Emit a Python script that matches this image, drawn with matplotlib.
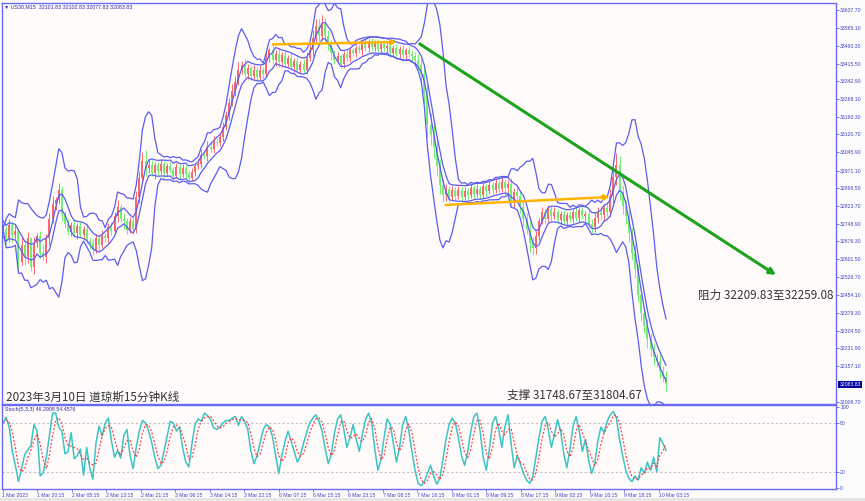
import numpy as np
import pandas as pd
import matplotlib
matplotlib.use('Agg')
import matplotlib.pyplot as plt
from matplotlib.patches import Rectangle

plt.rcParams['font.family'] = ['Noto Sans CJK SC', 'DejaVu Sans']

# ---- data (each bar ~45 min of the US30 M15 chart) ----
closes = [
    32730, 32690, 32745, 32705, 32720, 32590, 32660, 32610, 32690, 32570,
    32670, 32700, 32630, 32610, 32690, 32770, 32830, 32850, 32890, 32790,
    32750, 32715, 32745, 32710, 32740, 32705, 32730, 32680, 32670, 32640,
    32690, 32660, 32700, 32690, 32735, 32720, 32780, 32820, 32770, 32760,
    32725, 32760, 32730, 32860, 32940, 33010, 32980, 32995, 32960, 32995,
    32970, 33000, 32960, 32990, 32975, 32950, 32985, 32955, 32980, 32955,
    32940, 32965, 32990, 33000, 33035, 33030, 33070, 33060, 33090, 33085,
    33110, 33150, 33200, 33250, 33300, 33340, 33390, 33410, 33370, 33395,
    33365, 33390, 33360, 33390, 33370, 33440, 33470, 33430, 33455, 33420,
    33450, 33415, 33440, 33400, 33425, 33390, 33415, 33390, 33440, 33470,
    33520, 33570, 33530, 33580, 33530, 33495, 33460, 33430, 33445, 33415,
    33455, 33440, 33470, 33460, 33480, 33470, 33500, 33480, 33505, 33485,
    33500, 33475, 33495, 33480, 33490, 33460, 33480, 33455, 33475, 33450,
    33470, 33455, 33445, 33430, 33410, 33370, 33290, 33160, 33120, 33070,
    32990, 32910, 32870, 32895, 32860, 32890, 32865, 32890, 32860, 32885,
    32870, 32900, 32875, 32895, 32870, 32905, 32885, 32910, 32890, 32920,
    32895, 32925, 32900, 32915, 32840, 32880, 32865, 32820, 32770, 32730,
    32670, 32650, 32700, 32760, 32800, 32770, 32810, 32780, 32800, 32765,
    32790, 32760, 32785, 32770, 32800, 32775, 32805, 32780, 32790, 32750,
    32735, 32775, 32800, 32785, 32815, 32800, 32865, 32945, 32995, 32880,
    32825, 32780, 32710, 32630, 32560, 32455, 32380, 32325, 32270, 32230,
    32195, 32180, 32140, 32115, 32083.83,
]
first_open = 32720
# wick sizes, one digit per bar, in steps of 6 points
upper_wick = ("3243526341" "4235346253" "2324232423" "3242343524" "2324568432"
              "2322323232" "2323434343" "3434545343" "2323232534" "2323232345"
              "6556443232" "2322232323" "2323232323" "2323456787" "6543232323"
              "2323232323" "2323435454" "5432323232" "2323232323" "3434345786"
              "5454545454" "43434")
lower_wick = ("2435362543" "5342453435" "3232423243" "2423432425" "3243435324"
              "3232232323" "3232323232" "2323232323" "3232323243" "3232323232"
              "4343545323" "3232323232" "3232323232" "3234567878" "7654323232"
              "3232323232" "3254343454" "6543232323" "3232323232" "4343434565"
              "6565656565" "54545")

# stochastic %K, one value per bar
stoch_k = [
    80, 87, 75, 45, 28, 8, 24, 41, 47, 52,
    78, 70, 15, 19, 38, 65, 92, 92, 75, 70,
    42, 45, 68, 36, 40, 48, 16, 50, 25, 11,
    55, 76, 64, 80, 86, 58, 38, 46, 37, 65,
    72, 40, 24, 50, 70, 83, 80, 70, 56, 38,
    24, 28, 46, 64, 82, 80, 70, 75, 49, 32,
    26, 55, 78, 85, 82, 92, 89, 84, 74, 72,
    75, 80, 83, 83, 86, 88, 77, 88, 82, 72,
    46, 30, 40, 56, 72, 78, 75, 63, 40, 18,
    40, 57, 70, 58, 45, 32, 40, 55, 68, 80,
    86, 90, 82, 70, 48, 30, 42, 68, 85, 90,
    72, 50, 62, 78, 60, 45, 66, 84, 92, 80,
    48, 22, 35, 62, 85, 78, 55, 32, 50, 78,
    88, 70, 45, 22, 6, 3, 8, 18, 28, 15,
    5, 12, 35, 60, 78, 86, 80, 62, 40, 28,
    45, 70, 88, 92, 70, 38, 22, 48, 80, 88,
    72, 50, 75, 90, 55, 25, 40, 30, 18, 10,
    6, 14, 38, 62, 82, 88, 72, 50, 66, 84,
    70, 42, 25, 48, 76, 88, 70, 45, 60, 35,
    18, 30, 58, 75, 68, 82, 90, 94, 86, 60,
    40, 22, 12, 8, 15, 10, 25, 18, 32, 22,
    38, 20, 62, 55, 46.29,
]

price_ticks = [33637.70, 33565.10, 33490.30, 33415.50, 33342.90, 33268.10,
               33193.30, 33120.70, 33045.90, 32971.10, 32896.50, 32823.70,
               32748.90, 32676.30, 32601.50, 32526.70, 32454.10, 32379.30,
               32304.50, 32231.90, 32157.10, 32009.70]
time_labels = ['1 Mar 2023', '1 Mar 20:15', '2 Mar 05:15', '2 Mar 13:15',
               '2 Mar 21:15', '3 Mar 06:15', '3 Mar 14:15', '3 Mar 22:15',
               '6 Mar 07:15', '6 Mar 15:15', '6 Mar 23:15', '7 Mar 08:15',
               '7 Mar 16:15', '8 Mar 01:15', '8 Mar 09:15', '8 Mar 17:15',
               '9 Mar 02:15', '9 Mar 10:15', '9 Mar 18:15', '10 Mar 03:15']
header = '\u25bc US30,M15  32101.83 32102.83 32077.83 32083.83'
stoch_title = 'Stoch(5,3,3) 46.2908 54.4576'
resist_txt = '阻力 32209.83至32259.08'
support_txt = '支撑 31748.67至31804.67'
title_txt = '2023年3月10日 道琼斯15分钟K线'

# hand drawn lines: (bar index, price)
green_line = [(134.5, 33497), (249.5, 32537)]
orange_1 = [(87.1, 33495), (127.1, 33505)]
orange_2 = [(142.9, 32828), (195.8, 32861)]

# ---- derived ----
c = np.array(closes, dtype=float)
n = len(c)
o = np.concatenate([[first_open], c[:-1]])
uw = np.array([int(d) for d in upper_wick]) * 6
lw_ = np.array([int(d) for d in lower_wick]) * 6
hi = np.maximum(o, c) + uw
lo = np.minimum(o, c) - lw_

W, H = 865, 501
step = 663 / (n - 1)
xs = 3 + np.arange(n) * step
def bx(i):
    return 3 + i * step

s = pd.Series(c)
mid = s.rolling(7, min_periods=1).mean()
sd = s.rolling(7, min_periods=1).std(ddof=0).fillna(0)
bb_up = mid + 3.0 * sd
bb_dn = mid - 3.0 * sd
ma4 = s.rolling(4, min_periods=1).mean()
env_up = ma4 * 1.001
env_dn = ma4 * 0.999

k = pd.Series(stoch_k, dtype=float)
sig = k.rolling(3, min_periods=1).mean()

# ---- figure ----
bg = '#fffbfb'
blue = '#6b6bf0'
lab = '#4040c0'
fig = plt.figure(figsize=(W / 100, H / 100), dpi=100, facecolor='#fcfcfc')
fig.patches.append(Rectangle((0, 0), 1, 3 / H, transform=fig.transFigure,
                             fc='#e6e6e6', ec='none', zorder=-5))
ax = fig.add_axes([2 / W, 1 - 404 / H, 834 / W, 401 / H], facecolor=bg)
ax2 = fig.add_axes([2 / W, 1 - 489 / H, 834 / W, 84 / H], facecolor=bg)

up = c >= o
cols = np.where(up, '#f86a6a', '#72ee72')
ax.vlines(xs, lo, hi, colors=cols, lw=0.7)
ax.bar(xs, np.maximum(np.abs(c - o), 3), bottom=np.minimum(o, c), width=2.0,
       color=cols, linewidth=0)

for band in (bb_up, bb_dn, env_up, env_dn):
    ax.plot(xs, band, color='#5c5cf0', lw=0.9)

def arrow(a, pts, color, lw, ms):
    (x0, y0), (x1, y1) = pts
    a.annotate('', xy=(bx(x1), y1), xytext=(bx(x0), y0),
               arrowprops=dict(arrowstyle='-|>', color=color, lw=lw,
                               mutation_scale=ms, shrinkA=0, shrinkB=0))

arrow(ax, green_line, '#1ca31c', 2.2, 9)
arrow(ax, orange_1, '#ffb400', 1.8, 7)
arrow(ax, orange_2, '#ffb400', 1.8, 7)

ax.set_xlim(2, 836)
ax.set_ylim(32001, 33667)
ax.set_xticks([])
ax.yaxis.tick_right()
ax.set_yticks(price_ticks)
ax.set_yticklabels([f'{p:.2f}' for p in price_ticks])
ax.tick_params(axis='y', labelsize=3.7, labelcolor=lab, color=blue,
               length=2, pad=1, width=0.6)
for a in (ax, ax2):
    for sp in a.spines.values():
        sp.set_color(blue)
        sp.set_linewidth(1.0)

ax.text(4, 33660, header, fontsize=3.8, color='#2a2aa0', va='top',
        family=['Liberation Sans', 'DejaVu Sans'])
ax.text(698, 32452, resist_txt, fontsize=8.4, color='#333333', va='center')
ax.text(507, 32037, support_txt, fontsize=8.4, color='#333333', va='center')
ax.text(6, 32029, title_txt, fontsize=8.4, color='#333333', va='center')

ax.annotate(f'{closes[-1]:.2f}', xy=(1, closes[-1]),
            xycoords=('axes fraction', 'data'), xytext=(2.5, 0),
            textcoords='offset points', va='center', ha='left', fontsize=3.7,
            color='white', family='Liberation Sans',
            bbox=dict(boxstyle='square,pad=0.2', fc='#0000a0', ec='none'))

# stochastic panel
ax2.axhline(80, color='#c0c0c0', lw=0.8, ls=(0, (2, 2)))
ax2.axhline(20, color='#c0c0c0', lw=0.8, ls=(0, (2, 2)))
ax2.plot(xs, k, color='#3cc4c4', lw=1.1)
ax2.plot(xs, sig, color='#ff3c3c', lw=0.9, ls=(0, (1.5, 1.5)))
ax2.set_xlim(2, 836)
ax2.set_ylim(-1, 102)
ax2.yaxis.tick_right()
ax2.set_yticks([0, 20, 80, 100])
ax2.set_yticklabels(['0', '20', '80', '100'])
tick_px = 2.5 + np.arange(len(time_labels)) * 34.55
ax2.set_xticks(tick_px)
ax2.set_xticklabels(time_labels, ha='left')
ax2.tick_params(labelsize=3.7, labelcolor=lab, color=blue, length=2,
                pad=1, width=0.6)
for a in (ax, ax2):
    for t in a.get_yticklabels() + a.get_xticklabels():
        t.set_fontfamily('Liberation Sans')
ax2.text(5, 100, stoch_title, fontsize=3.8, color='#2a2aa0', va='top',
         family='Liberation Sans')

fig.savefig('out.png', dpi=100, facecolor=fig.get_facecolor())
